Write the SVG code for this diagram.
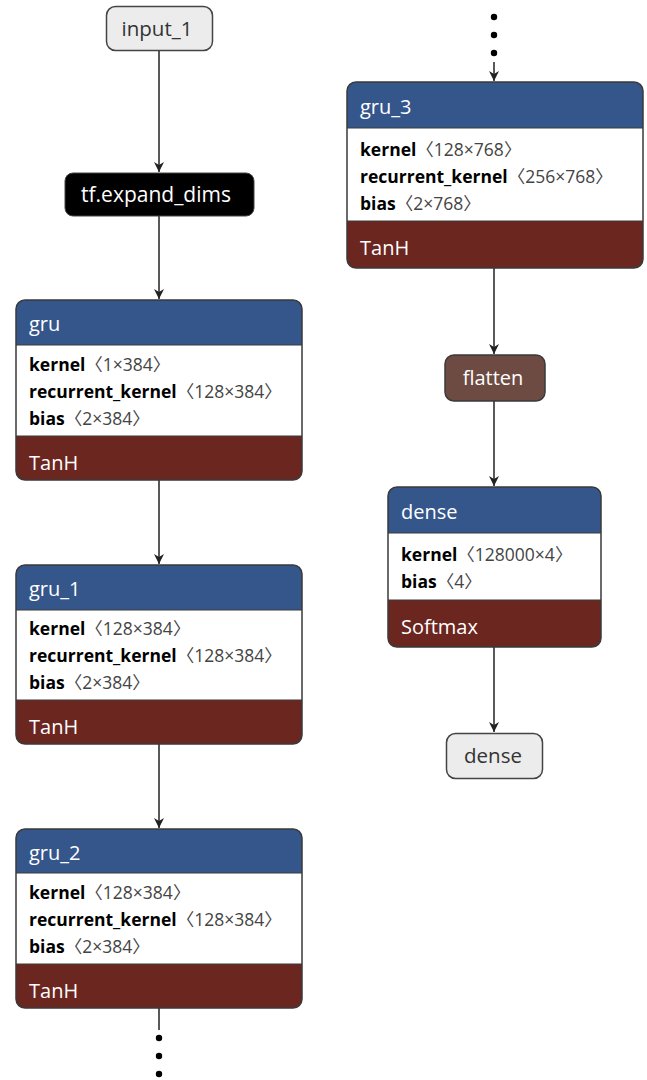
<svg xmlns="http://www.w3.org/2000/svg" width="647" height="1080" viewBox="0 0 647 1080">
<style>
text{font-family:"Open Sans","Noto Sans","Noto Sans CJK SC",sans-serif}
.t{font-size:20px;fill:#fff}
.a{font-size:17.5px;fill:#222}
.b{font-weight:bold;fill:#000}
.v{fill:#444;font-family:"Open Sans","Noto Sans CJK SC",sans-serif}
.br{font-family:"Noto Sans CJK SC",sans-serif;fill:#444}
.box{stroke:#3a3a3a;stroke-width:1.5}
.hdr{fill:#34568b}
.act{fill:#6b2620}
.sep{stroke:#3a3a3a;stroke-width:1.2}
.edge{stroke:#222;stroke-width:1.5;fill:none}
.dot{fill:#000}
.io{fill:#ececec;stroke:#444;stroke-width:1.5}
.iot{font-size:20.5px;fill:#333}
</style>
<defs>
<marker id="arrow" markerWidth="12" markerHeight="12" refX="11" refY="6" orient="auto" markerUnits="userSpaceOnUse" viewBox="0 0 12 12">
<path d="M1,1 L11,6 L1,11 L4,6 Z" fill="#222"/>
</marker>
</defs>
<g id="connectors">
<line class="edge" x1="159" y1="50" x2="159" y2="172" marker-end="url(#arrow)"/>
<line class="edge" x1="159" y1="216" x2="159" y2="299" marker-end="url(#arrow)"/>
<line class="edge" x1="159" y1="480" x2="159" y2="564" marker-end="url(#arrow)"/>
<line class="edge" x1="159" y1="744" x2="159" y2="828" marker-end="url(#arrow)"/>
<line class="edge" x1="159" y1="1008" x2="159" y2="1030"/>
<circle class="dot" cx="159" cy="1038" r="3.2"/>
<circle class="dot" cx="159" cy="1056" r="3.2"/>
<circle class="dot" cx="159" cy="1074" r="3.2"/>
<circle class="dot" cx="494" cy="17" r="3.2"/>
<circle class="dot" cx="494" cy="35" r="3.2"/>
<circle class="dot" cx="494" cy="53" r="3.2"/>
<line class="edge" x1="494" y1="62" x2="494" y2="81" marker-end="url(#arrow)"/>
<line class="edge" x1="494" y1="268" x2="494" y2="354" marker-end="url(#arrow)"/>
<line class="edge" x1="494" y1="401" x2="494" y2="486" marker-end="url(#arrow)"/>
<line class="edge" x1="494" y1="647" x2="494" y2="732" marker-end="url(#arrow)"/>
</g>
<g id="input_1">
<rect class="io" x="106.5" y="6.5" width="106" height="44" rx="9"/>
<text class="iot" x="157" y="36" text-anchor="middle">input_1</text>
</g>
<g id="tf.expand_dims">
<rect x="65" y="173" width="189" height="43" rx="8" fill="#000" stroke="#444" stroke-width="1"/>
<text class="t" x="156" y="202" text-anchor="middle" style="font-size:21px">tf.expand_dims</text>
</g>
<g id="gru">
<rect x="16" y="300" width="286" height="180" rx="9" fill="#fff"/>
<path class="hdr" d="M16,345 V309 a9,9 0 0 1 9,-9 H293 a9,9 0 0 1 9,9 V345 Z"/>
<path class="act" d="M16,436 V471 a9,9 0 0 0 9,9 H293 a9,9 0 0 0 9,-9 V436 Z"/>
<line class="sep" x1="16" y1="345" x2="302" y2="345"/>
<line class="sep" x1="16" y1="436" x2="302" y2="436"/>
<rect class="box" x="16" y="300" width="286" height="180" rx="9" fill="none"/>
<text class="t" x="29" y="331">gru</text>
<text class="a" x="29" y="371"><tspan class="b">kernel</tspan><tspan class="br">〈</tspan><tspan class="v">1×384</tspan><tspan class="br">〉</tspan></text>
<text class="a" x="29" y="398"><tspan class="b">recurrent_kernel</tspan><tspan class="br">〈</tspan><tspan class="v">128×384</tspan><tspan class="br">〉</tspan></text>
<text class="a" x="29" y="425"><tspan class="b">bias</tspan><tspan class="br">〈</tspan><tspan class="v">2×384</tspan><tspan class="br">〉</tspan></text>
<text class="t" x="29" y="470">TanH</text>
</g>
<g id="gru_1">
<rect x="16" y="565" width="286" height="179" rx="9" fill="#fff"/>
<path class="hdr" d="M16,610 V574 a9,9 0 0 1 9,-9 H293 a9,9 0 0 1 9,9 V610 Z"/>
<path class="act" d="M16,700 V735 a9,9 0 0 0 9,9 H293 a9,9 0 0 0 9,-9 V700 Z"/>
<line class="sep" x1="16" y1="610" x2="302" y2="610"/>
<line class="sep" x1="16" y1="700" x2="302" y2="700"/>
<rect class="box" x="16" y="565" width="286" height="179" rx="9" fill="none"/>
<text class="t" x="29" y="596">gru_1</text>
<text class="a" x="29" y="635"><tspan class="b">kernel</tspan><tspan class="br">〈</tspan><tspan class="v">128×384</tspan><tspan class="br">〉</tspan></text>
<text class="a" x="29" y="662"><tspan class="b">recurrent_kernel</tspan><tspan class="br">〈</tspan><tspan class="v">128×384</tspan><tspan class="br">〉</tspan></text>
<text class="a" x="29" y="689"><tspan class="b">bias</tspan><tspan class="br">〈</tspan><tspan class="v">2×384</tspan><tspan class="br">〉</tspan></text>
<text class="t" x="29" y="734">TanH</text>
</g>
<g id="gru_2">
<rect x="16" y="829" width="286" height="179" rx="9" fill="#fff"/>
<path class="hdr" d="M16,873 V838 a9,9 0 0 1 9,-9 H293 a9,9 0 0 1 9,9 V873 Z"/>
<path class="act" d="M16,964 V999 a9,9 0 0 0 9,9 H293 a9,9 0 0 0 9,-9 V964 Z"/>
<line class="sep" x1="16" y1="873" x2="302" y2="873"/>
<line class="sep" x1="16" y1="964" x2="302" y2="964"/>
<rect class="box" x="16" y="829" width="286" height="179" rx="9" fill="none"/>
<text class="t" x="29" y="860">gru_2</text>
<text class="a" x="29" y="899"><tspan class="b">kernel</tspan><tspan class="br">〈</tspan><tspan class="v">128×384</tspan><tspan class="br">〉</tspan></text>
<text class="a" x="29" y="926"><tspan class="b">recurrent_kernel</tspan><tspan class="br">〈</tspan><tspan class="v">128×384</tspan><tspan class="br">〉</tspan></text>
<text class="a" x="29" y="953"><tspan class="b">bias</tspan><tspan class="br">〈</tspan><tspan class="v">2×384</tspan><tspan class="br">〉</tspan></text>
<text class="t" x="29" y="998">TanH</text>
</g>
<g id="gru_3">
<rect x="347" y="82" width="296" height="186" rx="9" fill="#fff"/>
<path class="hdr" d="M347,128 V91 a9,9 0 0 1 9,-9 H634 a9,9 0 0 1 9,9 V128 Z"/>
<path class="act" d="M347,221 V259 a9,9 0 0 0 9,9 H634 a9,9 0 0 0 9,-9 V221 Z"/>
<line class="sep" x1="347" y1="128" x2="643" y2="128"/>
<line class="sep" x1="347" y1="221" x2="643" y2="221"/>
<rect class="box" x="347" y="82" width="296" height="186" rx="9" fill="none"/>
<text class="t" x="360" y="114">gru_3</text>
<text class="a" x="360" y="156"><tspan class="b">kernel</tspan><tspan class="br">〈</tspan><tspan class="v">128×768</tspan><tspan class="br">〉</tspan></text>
<text class="a" x="360" y="183"><tspan class="b">recurrent_kernel</tspan><tspan class="br">〈</tspan><tspan class="v">256×768</tspan><tspan class="br">〉</tspan></text>
<text class="a" x="360" y="210"><tspan class="b">bias</tspan><tspan class="br">〈</tspan><tspan class="v">2×768</tspan><tspan class="br">〉</tspan></text>
<text class="t" x="360" y="255">TanH</text>
</g>
<g id="flatten">
<rect x="445" y="355" width="100" height="46" rx="9" fill="#6e4b42" stroke="#3a3a3a" stroke-width="1.5"/>
<text class="t" x="493" y="385" text-anchor="middle">flatten</text>
</g>
<g id="dense">
<rect x="388" y="487" width="213" height="160" rx="9" fill="#fff"/>
<path class="hdr" d="M388,533 V496 a9,9 0 0 1 9,-9 H592 a9,9 0 0 1 9,9 V533 Z"/>
<path class="act" d="M388,600 V638 a9,9 0 0 0 9,9 H592 a9,9 0 0 0 9,-9 V600 Z"/>
<line class="sep" x1="388" y1="533" x2="601" y2="533"/>
<line class="sep" x1="388" y1="600" x2="601" y2="600"/>
<rect class="box" x="388" y="487" width="213" height="160" rx="9" fill="none"/>
<text class="t" x="401" y="519">dense</text>
<text class="a" x="401" y="561"><tspan class="b">kernel</tspan><tspan class="br">〈</tspan><tspan class="v">128000×4</tspan><tspan class="br">〉</tspan></text>
<text class="a" x="401" y="588"><tspan class="b">bias</tspan><tspan class="br">〈</tspan><tspan class="v">4</tspan><tspan class="br">〉</tspan></text>
<text class="t" x="401" y="634">Softmax</text>
</g>
<g id="dense_output">
<rect class="io" x="446.5" y="733.5" width="96" height="45" rx="9"/>
<text class="iot" x="493" y="763" text-anchor="middle">dense</text>
</g>
</svg>
